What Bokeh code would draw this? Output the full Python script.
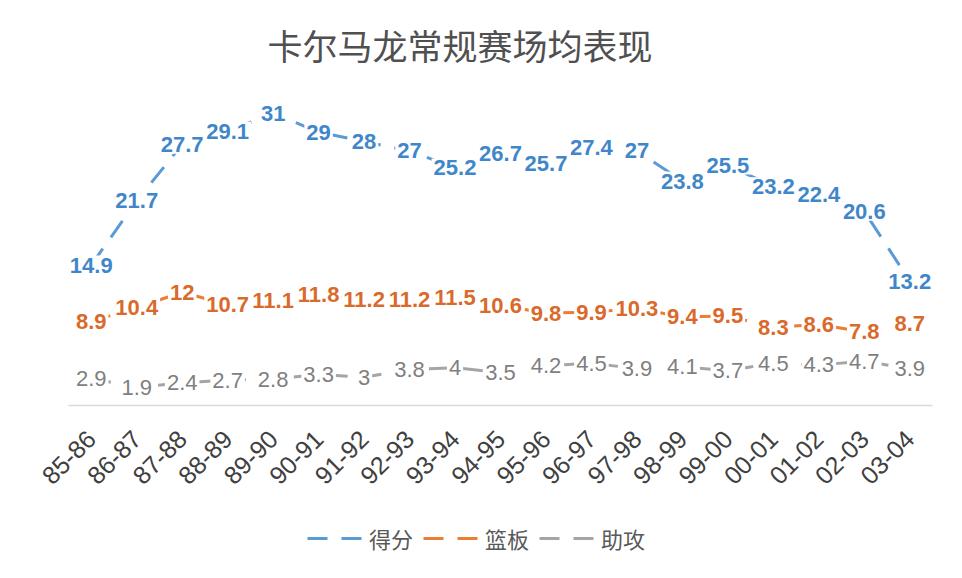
from bokeh.plotting import figure
from bokeh.layouts import column
from bokeh.models import Range1d, FactorRange, Legend, LegendItem, Title, ColumnDataSource
from bokeh.core.properties import value
from bokeh.embed import file_html
from bokeh.resources import INLINE
import math

seasons = ["85-86", "86-87", "87-88", "88-89", "89-90", "90-91", "91-92", "92-93", "93-94", "94-95",
           "95-96", "96-97", "97-98", "98-99", "99-00", "00-01", "01-02", "02-03", "03-04"]
points = [14.9, 21.7, 27.7, 29.1, 31, 29, 28, 27, 25.2, 26.7, 25.7, 27.4, 27, 23.8, 25.5, 23.2, 22.4, 20.6, 13.2]
rebounds = [8.9, 10.4, 12, 10.7, 11.1, 11.8, 11.2, 11.2, 11.5, 10.6, 9.8, 9.9, 10.3, 9.4, 9.5, 8.3, 8.6, 7.8, 8.7]
assists = [2.9, 1.9, 2.4, 2.7, 2.8, 3.3, 3, 3.8, 4, 3.5, 4.2, 4.5, 3.9, 4.1, 3.7, 4.5, 4.3, 4.7, 3.9]
series_names = ["得分", "篮板", "助攻"]

line_colors = ["#5B9BD5", "#ED7D31", "#A5A5A5"]
label_colors = ["#3F87C9", "#D96A2B", "#7F7F7F"]
DASH = "20 14"

p = figure(width=946, height=500, x_range=FactorRange(*seasons), y_range=Range1d(0, 35),
           output_backend="svg", toolbar_location=None,
           min_border_left=68, min_border_right=14, min_border_top=75, min_border_bottom=95)

p.title = Title(text="卡尔马龙常规赛场均表现", text_font="Noto Sans CJK SC", text_font_size="35px",
                text_font_style="normal", text_color="#505050", align="left", offset=199, standoff=11)

p.grid.visible = False
p.yaxis.visible = False
p.outline_line_color = None
p.background_fill_color = "white"
p.border_fill_color = "white"

xa = p.xaxis[0]
xa.axis_line_color = "#D9D9D9"
xa.axis_line_width = 1.5
xa.major_tick_line_color = None
xa.minor_tick_line_color = None
xa.major_label_orientation = math.pi / 4
xa.major_label_text_font = "Liberation Sans"
xa.major_label_text_font_size = "25px"
xa.major_label_text_color = "#404040"
xa.major_label_standoff = 23

renderers = []
for vals, lc in zip([points, rebounds, assists], line_colors):
    src = ColumnDataSource(dict(x=seasons, y=vals))
    r = p.line("x", "y", source=src, line_color=lc, line_width=3, line_dash=DASH)
    renderers.append(r)

for vals, tc, bold in zip([points, rebounds, assists], label_colors, [True, True, False]):
    src = ColumnDataSource(dict(x=seasons, y=vals, t=[("%g" % v) for v in vals]))
    p.text("x", "y", text="t", source=src, text_align="center", text_baseline="middle",
           text_font=value("Liberation Sans"), text_font_size="22px",
           text_font_style="bold" if bold else "normal", text_color=tc,
           background_fill_color="white", background_fill_alpha=1.0, padding=2)

# legend strip (its lines lie outside its visible range; only the legend shows)
lg = figure(width=946, height=62, x_range=Range1d(0, 1), y_range=Range1d(0, 1),
            output_backend="svg", toolbar_location=None,
            x_axis_location=None, y_axis_location=None,
            min_border_left=0, min_border_right=0, min_border_top=0, min_border_bottom=0)
lg.grid.visible = False
lg.outline_line_color = None
lg.border_fill_color = "white"
lg_rs = []
for lc in line_colors:
    r = lg.line(x=[-5, -4], y=[-5, -5], line_color=lc, line_width=3, line_dash=DASH)
    lg_rs.append(r)

legend = Legend(items=[LegendItem(label=n, renderers=[r]) for n, r in zip(series_names, lg_rs)],
                orientation="horizontal", location=(239, 8),
                label_text_font="Noto Sans CJK SC", label_text_font_size="22px", label_text_color="#595959",
                glyph_width=55, glyph_height=20, spacing=10, label_standoff=7,
                border_line_color=None, background_fill_alpha=0, margin=0, padding=4)
lg.add_layout(legend, "center")

layout = column(p, lg, spacing=0)
open("out.html", "w").write(file_html(layout, INLINE))
